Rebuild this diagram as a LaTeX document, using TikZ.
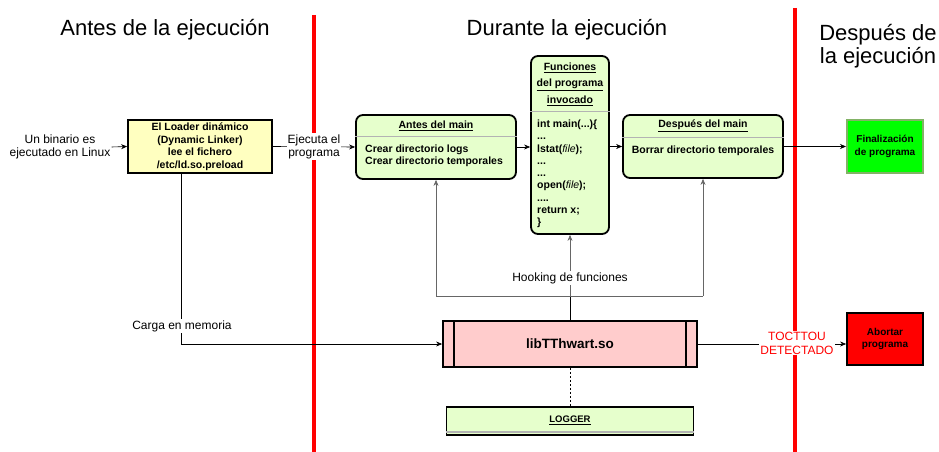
\documentclass[tikz,border=0pt]{standalone}
\usepackage{fontspec}
\setmainfont{Liberation Sans}
\usetikzlibrary{arrows.meta,calc}
\definecolor{lgreen}{HTML}{E6FFCC}
\definecolor{lyellow}{HTML}{FFFFC0}
\definecolor{lpink}{HTML}{FFCCCC}
\definecolor{sepgray}{HTML}{B3B3B3}
\definecolor{hookgray}{HTML}{666666}
\definecolor{fingreen}{HTML}{00FF00}
\definecolor{finborder}{HTML}{82B366}
\begin{document}
\begin{tikzpicture}[x=1pt,y=-1pt,
 box/.style={draw=black, line width=1.8pt, inner sep=0pt},
 rbox/.style={box, rounded corners=7pt, fill=lgreen},
 sep/.style={draw=sepgray, line width=1.2pt},
 arr/.style={-{Stealth[length=6pt,width=5pt]}, line width=0.6pt},
 plain/.style={line width=0.6pt},
 lbl/.style={font=\fontsize{12}{13.6}\selectfont, align=center, fill=white, inner sep=1pt},
 heading/.style={font=\fontsize{22}{23}\selectfont, align=center},
 btxt/.style={font=\bfseries\fontsize{10.5}{12.2}\selectfont, align=left, inner sep=0pt},
 redline/.style={draw=red, line width=4pt}]
\useasboundingbox (0,0) rectangle (939,452);

% phase separators
\draw[redline] (314,15) -- (314,452);
\draw[redline] (795,8) -- (795,452);

% headings
\node[heading] (h1) at (165,30) {Antes de la ejecución};
\node[heading] (h2) at (567,30) {Durante la ejecución};
\node[heading] (h3) at (878,46) {Después de\\la ejecución};

% loader
\node[box, fill=lyellow, minimum width=144pt, minimum height=53pt, align=center,
      font=\bfseries\fontsize{10.5}{12.5}\selectfont] (loader) at (200,146.5)
  {El Loader dinámico\\(Dynamic Linker)\\lee el fichero\\/etc/ld.so.preload};
\node[lbl, fill=none] (input) at (60,147) {Un binario es\\ejecutado en Linux};

% antes del main
\node[rbox, minimum width=160pt, minimum height=64pt] (antes) at (436,147) {};
\node[btxt] (antesh) at (436,126) {\underline{Antes del main}};
\draw[sep] ([yshift=-22pt]antes.north west) -- ([yshift=-22pt]antes.north east);
\node[btxt, anchor=west] (antesb) at (365,156) {Crear directorio logs\\Crear directorio temporales};

% funciones
\node[rbox, minimum width=78pt, minimum height=178pt] (func) at (570,145) {};
\node[btxt, align=center, font=\bfseries\fontsize{10.5}{16.5}\selectfont] (funch) at (570,84)
  {\underline{Funciones}\\\underline{del programa}\\\underline{invocado}};
\draw[sep] ([yshift=-56pt]func.north west) -- ([yshift=-56pt]func.north east);
\node[btxt, anchor=west, font=\bfseries\fontsize{10.5}{12.25}\selectfont] (funcb) at (537,174)
  {int main(...)\{\\...\\lstat(\textmd{\textit{file}});\\...\\...\\open(\textmd{\textit{file}});\\....\\return x;\\\}};

% despues del main
\node[rbox, minimum width=160pt, minimum height=63pt] (despues) at (703,146.5) {};
\node[btxt] (despuesh) at (703,126) {\underline{Después del main}};
\draw[sep] ([yshift=-23pt]despues.north west) -- ([yshift=-23pt]despues.north east);
\node[btxt] (despuesb) at (703,151) {Borrar directorio temporales};

% finalizacion
\node[draw=finborder, line width=2pt, fill=fingreen, inner sep=0pt, minimum width=76pt, minimum height=53pt,
      align=center, font=\bfseries\fontsize{10}{12.5}\selectfont] (fin) at (885,146.5) {Finalización\\de programa};

% lib
\node[box, fill=lpink, minimum width=254pt, minimum height=46pt,
      font=\bfseries\fontsize{13.5}{15}\selectfont] (lib) at (570,344) {libTThwart.so};
\draw[line width=1.8pt] ([xshift=12pt]lib.north west) -- ([xshift=12pt]lib.south west);
\draw[line width=1.8pt] ([xshift=-12pt]lib.north east) -- ([xshift=-12pt]lib.south east);

% abortar
\node[box, fill=red, minimum width=76pt, minimum height=52pt, align=center,
      font=\bfseries\fontsize{10}{12}\selectfont] (abort) at (885,339) {Abortar\\programa};

% logger
\node[box, fill=lgreen, minimum width=247pt, minimum height=28pt] (logger) at (570,421) {};
\draw[sep] ([yshift=4pt]logger.south west) -- ([yshift=4pt]logger.south east);
\node[btxt, font=\bfseries\fontsize{9.5}{11}\selectfont] (loggert) at (570,420) {\underline{LOGGER}};

% connectors
\draw[arr] (input.east) -- (loader.west);
\draw[arr] (loader.east) -- (antes.west) node[midway, lbl] (ejec) {Ejecuta el\\programa};
\draw[arr] (antes.east) -- (antes.east -| func.west);
\draw[arr] (func.east |- despues.west) -- (despues.west);
\draw[arr] (despues.east) -- (fin.west);

\coordinate (hk) at (570,296);
\draw[plain] (lib.north) -- (hk);
\draw[plain, hookgray] (antes.south |- hk) -- (despues.south |- hk);
\draw[arr, hookgray] (antes.south |- hk) -- (antes.south);
\draw[arr, hookgray] (hk) -- (func.south);
\draw[arr, hookgray] (despues.south |- hk) -- (despues.south);
\node[lbl] (hooklbl) at (570,278) {Hooking de funciones};

\coordinate (cg) at ($(loader.south west)!0.375!(loader.south east)$);
\draw[arr] (cg) |- (lib.west);
\node[lbl] (cargalbl) at (182,326) {Carga en memoria};

\draw[arr] (lib.east) -- (lib.east -| abort.west);
\node[lbl, text=red, font=\fontsize{12}{14}\selectfont] (toc) at (797,343) {TOCTTOU\\DETECTADO};

\draw[plain, dash pattern=on 2pt off 2pt] (lib.south) -- (logger.north);
\end{tikzpicture}
\end{document}
